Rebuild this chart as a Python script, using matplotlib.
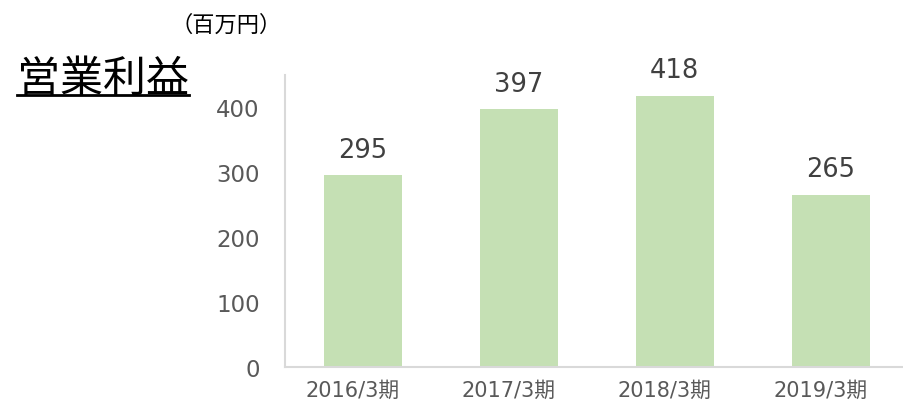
import matplotlib
matplotlib.use('Agg')
import matplotlib.pyplot as plt
import matplotlib.transforms as mtransforms
from matplotlib.lines import Line2D

# Data
periods = ["2016/3期", "2017/3期", "2018/3期", "2019/3期"]
profit = [295, 397, 418, 265]
yticks = [0, 100, 200, 300, 400]

FONT = ['DejaVu Sans', 'Noto Sans CJK JP']
plt.rcParams['font.family'] = FONT

fig = plt.figure(figsize=(9.04, 4.06), dpi=100)
ax = fig.add_axes([0.315, 0.094, 0.69, 0.719])

x = range(len(periods))
ax.bar(x, profit, width=0.5, color='#c5e0b4', zorder=2)

for i, v in enumerate(profit):
    ax.annotate(str(v), (i, v), textcoords='offset points', xytext=(0, 9),
                ha='center', va='bottom', fontsize=18.5, color='#404040')

ax.set_xlim(-0.5, 3.5)
ax.set_ylim(0, 450)
ax.set_yticks(yticks)
ax.set_yticklabels([str(t) for t in yticks], fontsize=16.5, color='#595959')
ax.set_xticks(list(x))
ax.set_xticklabels(periods, fontsize=15, color='#595959')
ax.tick_params(axis='y', length=0, pad=18)
ax.tick_params(axis='x', length=0, pad=9)

# labels in the original sit a bit left of the bar centres
shift = mtransforms.ScaledTranslation(-10 / 100, 0, fig.dpi_scale_trans)
for lbl in ax.get_xticklabels():
    lbl.set_transform(lbl.get_transform() + shift)

for side in ['top', 'right']:
    ax.spines[side].set_visible(False)
for side in ['left', 'bottom']:
    ax.spines[side].set_color('#d9d9d9')
    ax.spines[side].set_linewidth(1.5)

# Title with underline
title = fig.text(17 / 904, 1 - 92 / 406, '営業利益', fontsize=31, color='black',
                 family=['Noto Sans CJK JP'], va='baseline', ha='left')
fig.text(171 / 904, 1 - 25 / 406, '（百万円）', fontsize=16, color='black',
         family=['Noto Sans CJK JP'], va='center', ha='left')

fig.canvas.draw()
bb = title.get_window_extent().transformed(fig.transFigure.inverted())
fig.add_artist(Line2D([bb.x0, bb.x1], [1 - 96 / 406] * 2, color='black',
                      linewidth=2, transform=fig.transFigure))

plt.savefig('out.png', dpi=100)
